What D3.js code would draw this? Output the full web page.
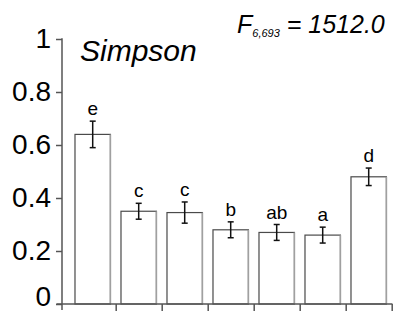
<!DOCTYPE html>
<html>
<head>
<meta charset="utf-8">
<script src="https://cdnjs.cloudflare.com/ajax/libs/d3/7.8.5/d3.min.js"></script>
<style>
  body { margin: 0; background: #fff; }
  svg { display: block; font-family: "Liberation Sans", Arial, sans-serif; }
</style>
</head>
<body>
<div id="graph"></div>
<script>
// chart data
const groups = ["1", "2", "3", "4", "5", "6", "7"];
const means = [0.64, 0.35, 0.345, 0.28, 0.27, 0.26, 0.48];
const errors = [0.05, 0.03, 0.04, 0.03, 0.03, 0.03, 0.033];
const letters = ["e", "c", "c", "b", "ab", "a", "d"];
const yTicks = [0, 0.2, 0.4, 0.6, 0.8, 1];

const width = 402, height = 313;
const axisX = 62, axisY = 304;

let svg = d3.select("#graph")
    .append("svg")
    .attr("width", width)
    .attr("height", height);

let y = d3.scaleLinear().domain([0, 1]).range([axisY, 39]);

// band scale for the bars, linear one for the tick marks between them
let x = d3.scaleBand()
    .domain(groups)
    .range([69.7, 391.7])
    .paddingInner(0.23)
    .paddingOuter(0.115);
let xb = d3.scaleLinear().domain([0, groups.length]).range([69.7, 391.7]);

const axisColor = "#555";

// y axis
let yAxis = svg.append("g")
    .attr("transform", `translate(${axisX},0)`)
    .call(d3.axisLeft(y).tickValues(yTicks).tickSize(6).tickPadding(5).tickFormat(d3.format("")));
yAxis.select(".domain").remove();
yAxis.selectAll("line").attr("stroke", axisColor).attr("stroke-width", 1.5);
yAxis.selectAll("text")
    .attr("fill", "#000")
    .style("font-size", "28px");
// the zero label sits a bit above its tick in the original
yAxis.selectAll(".tick").filter(d => d === 0).select("text").attr("y", -7);
yAxis.append("line")
    .attr("x1", 0).attr("x2", 0)
    .attr("y1", y(1) - 0.75).attr("y2", axisY + 6)
    .attr("stroke", axisColor).attr("stroke-width", 1.5);

// bars
let bars = svg.selectAll("g.bar").data(groups).enter()
    .append("g").attr("class", "bar");

bars.append("rect")
    .attr("x", d => x(d))
    .attr("y", (d, i) => y(means[i]))
    .attr("width", x.bandwidth())
    .attr("height", (d, i) => axisY - y(means[i]))
    .attr("fill", "#fff")
    .attr("stroke", "#4a4a4a")
    .attr("stroke-width", 1.2);

// lighter right edge
bars.append("line")
    .attr("x1", d => x(d) + x.bandwidth()).attr("x2", d => x(d) + x.bandwidth())
    .attr("y1", (d, i) => y(means[i])).attr("y2", axisY)
    .attr("stroke", "#a0a0a0").attr("stroke-width", 1.5);

// error bars
bars.each(function(d, i) {
    let g = d3.select(this);
    let cx = x(d) + x.bandwidth() / 2;
    let top = y(means[i] + errors[i]), bot = y(means[i] - errors[i]);
    g.append("line").attr("class", "err").attr("x1", cx).attr("x2", cx).attr("y1", top).attr("y2", bot);
    g.append("line").attr("class", "err").attr("x1", cx - 3).attr("x2", cx + 3).attr("y1", top).attr("y2", top);
    g.append("line").attr("class", "err").attr("x1", cx - 3).attr("x2", cx + 3).attr("y1", bot).attr("y2", bot);
});
bars.selectAll("line.err")
    .attr("stroke", "#111").attr("stroke-width", 1.5);

// significance letters
bars.append("text")
    .attr("x", d => x(d) + x.bandwidth() / 2)
    .attr("y", (d, i) => y(means[i] + errors[i]) - 6)
    .attr("text-anchor", "middle")
    .style("font-size", "19px")
    .text((d, i) => letters[i]);

// x axis
let xAxis = svg.append("g")
    .attr("transform", `translate(0,${axisY})`)
    .call(d3.axisBottom(xb).tickValues(d3.range(1, groups.length + 1)).tickSize(7).tickFormat(""));
xAxis.select(".domain").remove();
xAxis.selectAll("line").attr("stroke", axisColor).attr("stroke-width", 1.5);
xAxis.append("line")
    .attr("x1", 56.5).attr("x2", xb(groups.length) + 0.75)
    .attr("y1", 0).attr("y2", 0)
    .attr("stroke", axisColor).attr("stroke-width", 1.5);

// title
svg.append("text")
    .attr("x", 80).attr("y", 61)
    .style("font-size", "30px")
    .style("font-style", "italic")
    .text("Simpson");

// F statistic
let f = svg.append("text")
    .attr("x", 237).attr("y", 33)
    .style("font-size", "25px")
    .style("font-style", "italic");
f.append("tspan").text("F");
f.append("tspan").attr("dy", 4).style("font-size", "11px").text("6,693");
f.append("tspan").attr("dy", -4).text(" = 1512.0");
</script>
</body>
</html>
